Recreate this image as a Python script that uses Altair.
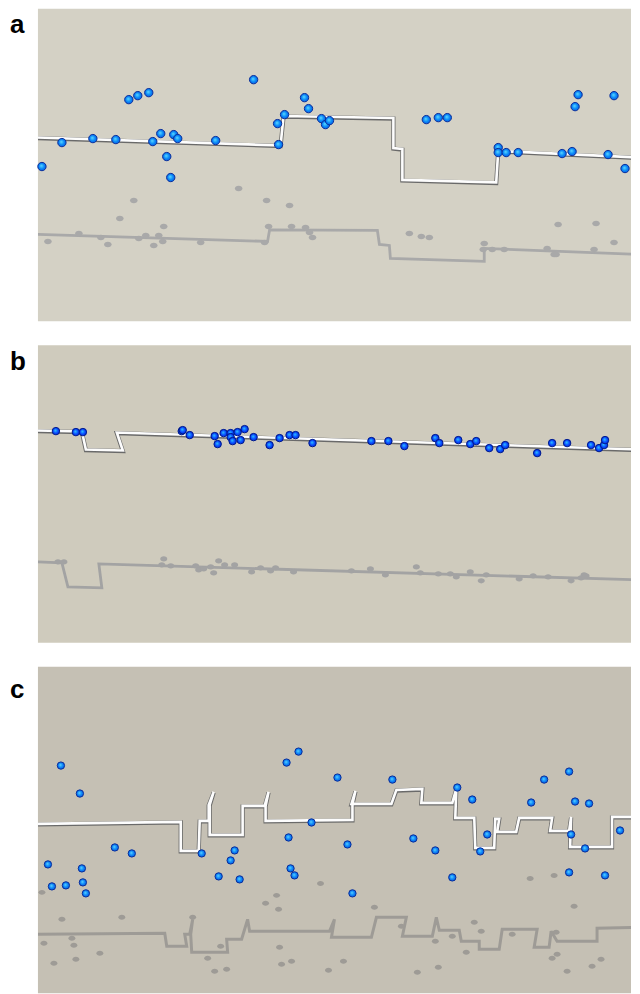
import altair as alt
import pandas as pd

# ---------------- Panel a ----------------
A_LINE_X = [38, 281, 284, 394, 394, 403, 403, 497, 499, 640]
A_LINE_Y = [137.5, 145.5, 116, 118, 148, 149, 180, 182.5, 151, 157.5]
A_SHADOW_X = [38, 268, 270, 378, 380, 390, 391, 485, 485, 640]
A_SHADOW_Y = [234, 241, 229.5, 230, 244, 245, 258, 261, 248, 254]
A_PTS_X = [42, 62, 93, 116, 129, 138, 149, 153, 161, 174, 178, 167, 171, 216, 254, 278, 279, 285,
           305, 309, 322, 326, 330, 427, 439, 448, 499, 499, 507, 519, 563, 573, 579, 576, 615, 609, 626]
A_PTS_Y = [166, 142, 138, 139, 99, 95, 92, 141, 133, 134, 138, 156, 177, 140, 79, 123, 144, 114,
           97, 108, 118, 124, 120, 119, 117, 117, 147, 152, 152, 152, 153, 151, 94, 106, 95, 154, 168]
A_SH_X = [48, 79, 101, 108, 120, 134, 139, 146, 154, 159, 163, 164, 201, 239, 265, 267, 269, 290,
          292, 306, 310, 313, 410, 422, 430, 485, 484, 493, 505, 548, 555, 557, 559, 595, 597, 615]
A_SH_Y = [241, 233, 237, 244, 218, 200, 238, 235, 245, 235, 241, 226, 242, 188, 242, 200, 226, 205,
          226, 227, 232, 237, 233, 236, 237, 243, 249, 249, 249, 248, 254, 254, 224, 249, 223, 242]

# ---------------- Panel b ----------------
B_LINE_X = [38, 82, 86, 123, 117, 640]
B_LINE_Y = [431, 432, 450, 451, 433, 450]
B_SHADOW_X = [38, 62, 68, 102, 99, 640]
B_SHADOW_Y = [562, 563, 587, 588, 564, 580]
B_PTS_X = [56, 76, 83, 182, 183, 190, 215, 218, 224, 231, 231, 233, 238, 241, 245, 254, 270, 280,
           290, 296, 313, 372, 389, 405, 436, 440, 459, 471, 477, 490, 501, 506, 538, 553, 568,
           592, 600, 605, 606]
B_PTS_Y = [431, 432, 432, 431, 430, 435, 436, 444, 433, 433, 437, 441, 432, 440, 429, 437, 445, 438,
           435, 435, 443, 441, 441, 446, 438, 443, 440, 444, 441, 448, 449, 445, 453, 443, 443,
           445, 448, 445, 440]
B_SH_X = [58, 64, 164, 162, 171, 196, 199, 204, 211, 214, 219, 225, 235, 252, 261, 271, 276, 294,
          352, 371, 386, 417, 421, 439, 451, 457, 471, 482, 487, 520, 534, 549, 572, 582, 585, 587]
B_SH_Y = [562, 562, 559, 565, 566, 566, 570, 569, 567, 573, 561, 565, 565, 572, 568, 571, 568, 572,
          571, 569, 575, 567, 573, 574, 574, 577, 572, 581, 575, 579, 576, 577, 581, 578, 575, 576]

# ---------------- Panel c ----------------
C_LINE_X = [38, 181, 181, 199, 200, 209, 209, 214, 210, 210, 243, 243, 265, 269, 266, 266,
            353, 353, 356, 352, 392, 397, 423, 422, 453, 457, 456, 475, 476, 495, 496, 500, 498,
            517, 520, 553, 551, 570, 572, 571, 613, 613, 640]
C_LINE_Y = [825, 823, 852, 852, 822, 822, 806, 793, 806, 836, 836, 807, 807, 793, 807, 822,
            821, 805, 792, 805, 805, 791, 790, 804, 804, 790, 819, 819, 849, 849, 820, 820, 833,
            833, 819, 819, 832, 832, 818, 848, 848, 818, 818]
C_SHADOW_X = [38, 165, 167, 187, 185, 190, 193, 191, 192, 228, 227, 242, 248, 250, 330, 335, 332,
              372, 377, 407, 403, 433, 437, 440, 460, 462, 480, 480, 500, 503, 538, 535, 550, 552,
              558, 598, 598, 640]
C_SHADOW_Y = [935, 934, 947, 947, 935, 935, 920, 935, 953, 953, 940, 940, 920, 932, 932, 920, 938,
              938, 918, 918, 937, 937, 918, 931, 931, 942, 942, 950, 950, 930, 930, 948, 948, 932,
              942, 942, 929, 928]
C_PTS_X = [61, 80, 48, 52, 66, 82, 83, 86, 115, 132, 202, 235, 231, 219, 240, 287, 299, 289, 291,
           295, 312, 338, 393, 458, 473, 532, 545, 570, 576, 590, 348, 414, 436, 488, 481, 572,
           586, 621, 453, 570, 606, 353]
C_PTS_Y = [766, 794, 865, 887, 886, 869, 883, 894, 848, 854, 854, 851, 861, 877, 880, 763, 752, 838,
           869, 876, 823, 778, 780, 788, 800, 803, 780, 772, 802, 804, 845, 839, 851, 835, 852, 835,
           849, 831, 878, 873, 876, 894]
C_SH_X = [42, 62, 122, 72, 74, 44, 100, 76, 54, 193, 208, 215, 227, 221, 266, 277, 279, 280, 282,
          292, 321, 375, 402, 436, 453, 475, 467, 482, 513, 531, 555, 575, 557, 344, 329, 418,
          439, 553, 558, 568, 593, 602]
C_SH_Y = [893, 920, 918, 939, 946, 944, 954, 960, 964, 918, 959, 972, 970, 947, 904, 896, 910, 948,
          965, 962, 884, 908, 927, 942, 937, 923, 953, 932, 935, 879, 876, 907, 933, 962, 971, 973,
          968, 959, 955, 972, 967, 960]

ELLIPSE = "M-1,0A1,0.72,0,1,0,1,0A1,0.72,0,1,0,-1,0Z"
X_LEFT, X_RIGHT = 38, 632


def grad(c0, c1, c2):
    return alt.RadialGradient(
        gradient="radial",
        stops=[alt.GradientStop(color=c0, offset=0),
               alt.GradientStop(color=c1, offset=0.55),
               alt.GradientStop(color=c2, offset=1)],
        x1=0.42, y1=0.4, r1=0, x2=0.5, y2=0.5, r2=0.55)


def panel(label, label_y, bg, top, bottom, lx, ly, sx, sy, px, py, qx, qy,
          pt_size, pt_fill, pt_stroke, sh_color, sh_w, sh_size):
    h = bottom - top
    xs = alt.Scale(domain=[X_LEFT, X_RIGHT], nice=False, zero=False)
    ys = alt.Scale(domain=[top, bottom], reverse=True, nice=False, zero=False)
    X = alt.X("x:Q", scale=xs, axis=None)
    Y = alt.Y("y:Q", scale=ys, axis=None)

    line_df = pd.DataFrame({"x": lx, "y": ly, "i": range(len(lx))})
    shadow_df = pd.DataFrame({"x": sx, "y": sy, "i": range(len(sx))})
    pts_df = pd.DataFrame({"x": px, "y": py})
    sh_df = pd.DataFrame({"x": qx, "y": qy})
    lab_df = pd.DataFrame({"label": [label]})

    shadow_line = alt.Chart(shadow_df).mark_line(
        color=sh_color, strokeWidth=sh_w, strokeJoin="miter", strokeMiterLimit=2, clip=True
    ).encode(x=X, y=Y, order="i:Q")
    shadow_pts = alt.Chart(sh_df).mark_point(
        shape=ELLIPSE, filled=True, color=sh_color, opacity=1, size=sh_size, strokeWidth=0
    ).encode(x=X, y=Y)
    line_dark = alt.Chart(line_df).mark_line(
        color="#6a6a6a", strokeWidth=4.2, strokeJoin="miter", strokeMiterLimit=2, clip=True
    ).encode(x=X, y=Y, order="i:Q")
    line_white = alt.Chart(line_df).transform_calculate(
        yy="datum.y - 0.6"
    ).mark_line(
        color="#fdfdfd", strokeWidth=2.6, strokeJoin="miter", strokeMiterLimit=2, clip=True
    ).encode(x=X, y=alt.Y("yy:Q", scale=ys, axis=None), order="i:Q")
    pts = alt.Chart(pts_df).mark_circle(
        fill=pt_fill, stroke=pt_stroke, strokeWidth=1, opacity=1, size=pt_size
    ).encode(x=X, y=Y)
    lab = alt.Chart(lab_df).mark_text(
        align="left", baseline="alphabetic", fontSize=26, fontWeight="bold",
        font="Liberation Sans", color="#000000"
    ).encode(text="label:N", x=alt.value(-28), y=alt.value(label_y))

    return alt.layer(shadow_line, shadow_pts, line_dark, line_white, pts, lab).properties(
        width=X_RIGHT - X_LEFT, height=h, view=alt.ViewBackground(fill=bg, stroke=None)
    )


pa = panel("a", 24, "#d4d1c5", 8, 321, A_LINE_X, A_LINE_Y, A_SHADOW_X, A_SHADOW_Y,
           A_PTS_X, A_PTS_Y, A_SH_X, A_SH_Y, 70,
           grad("#5fdcff", "#0c8cf8", "#0556e0"), "#0a2e9a", "#a9a9a9", 2.8, 58)
pb = panel("b", 25, "#cfcbbd", 345, 643, B_LINE_X, B_LINE_Y, B_SHADOW_X, B_SHADOW_Y,
           B_PTS_X, B_PTS_Y, B_SH_X, B_SH_Y, 56,
           grad("#2fcaff", "#0a50ff", "#0024dc"), "#001a8a", "#a3a3a3", 2.8, 50)
pc = panel("c", 31, "#c5c0b4", 667, 994, C_LINE_X, C_LINE_Y, C_SHADOW_X, C_SHADOW_Y,
           C_PTS_X, C_PTS_Y, C_SH_X, C_SH_Y, 54,
           grad("#5fd8ff", "#0c86f8", "#0556e0"), "#0a2e9a", "#9e9b96", 3.0, 48)

chart = alt.vconcat(pa, pb, pc, spacing=24).properties(
    padding={"left": 2, "top": 0, "right": 0, "bottom": 0}
).configure_view(stroke=None)

chart.save("out.html", embed_options={"renderer": "svg", "actions": False})
